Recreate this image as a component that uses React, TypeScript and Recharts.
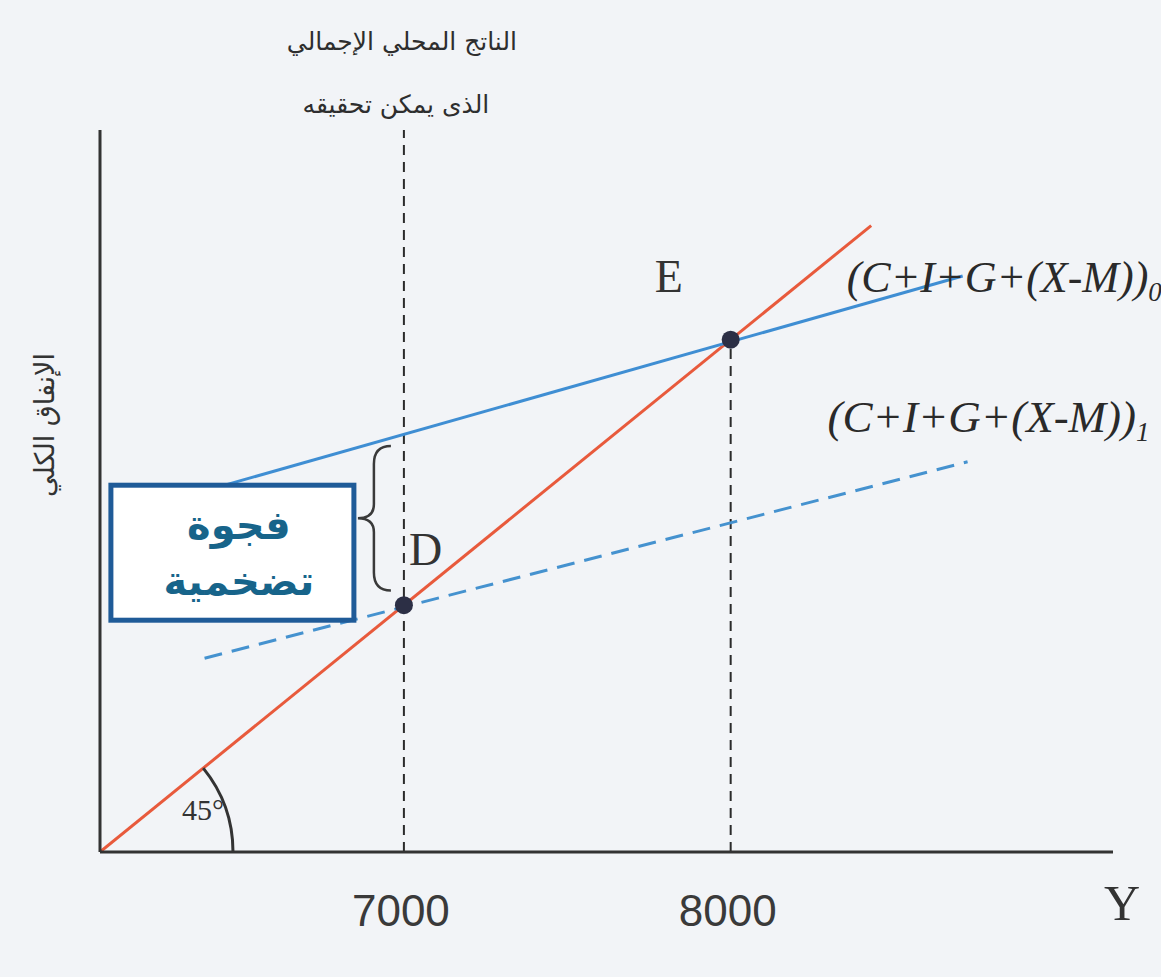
import React from 'react';
import {
  ComposedChart,
  Line,
  XAxis,
  YAxis,
  ReferenceLine,
  ReferenceDot
} from 'recharts';

// income (Y) on the horizontal axis, aggregate expenditure on the vertical one
const incomeTicks = [7000, 8000];
const incomeDomain = [6070, 9170];
const spendingDomain = [6070, 8790];

// 45 degree line (spending = income)
const line45 = [
  { x: 6070, y: 6070 },
  { x: 8430, y: 8430 }
];

// (C+I+G+(X-M))0 - original aggregate expenditure
const aggregate0 = [
  { x: 6460, y: 7455 },
  { x: 8710, y: 8240 }
];

// (C+I+G+(X-M))1 - lowered aggregate expenditure (dashed)
const aggregate1 = [
  { x: 6390, y: 6800 },
  { x: 8725, y: 7540 }
];

const pointE = { x: 8000, y: 8000 };
const pointD = { x: 7000, y: 7000 };

// inflationary gap at potential output
const gap = { x: 7000, top: 7600, bottom: 7055 };

const W = 1161;
const H = 977;
const plotW = 1013;
const plotH = 722;

const serif = '"Liberation Serif", "Times New Roman", serif';
const arabic = '"DejaVu Sans", sans-serif';

const GapBrace = (props: any) => {
  const { x1, y1, y2 } = props;
  const top = Math.min(y1, y2);
  const bottom = Math.max(y1, y2);
  const tip = x1 - 13;
  const spine = x1 - 30;
  const point = x1 - 46;
  const mid = (top + bottom) / 2;
  const d = `M ${tip} ${top} Q ${spine} ${top} ${spine} ${top + 18} L ${spine} ${mid - 14} Q ${spine} ${mid} ${point} ${mid} Q ${spine} ${mid} ${spine} ${mid + 14} L ${spine} ${bottom - 18} Q ${spine} ${bottom} ${tip} ${bottom}`;
  const boxLeft = point - 247;
  const boxRight = point - 4;
  const boxTop = mid - 33;
  const boxBottom = mid + 102;
  const cx = boxLeft + 128;
  return (
    <g>
      <path d={d} fill="none" stroke="#3a3a3a" strokeWidth={2.5} />
      <rect
        x={boxLeft}
        y={boxTop}
        width={boxRight - boxLeft}
        height={boxBottom - boxTop}
        fill="#ffffff"
        stroke="#1f5b98"
        strokeWidth={5}
      />
      <text x={cx} y={boxTop + 54} textAnchor="middle" fontFamily={arabic} fontWeight="bold" fontSize={40} fill="#17648a">
        فجوة
      </text>
      <text x={cx} y={boxTop + 110} textAnchor="middle" fontFamily={arabic} fontWeight="bold" fontSize={40} fill="#17648a">
        تضخمية
      </text>
    </g>
  );
};

const AngleMark = (props: any) => {
  const { cx, cy } = props;
  const r = 133;
  const sx = plotW / (incomeDomain[1] - incomeDomain[0]);
  const sy = plotH / (spendingDomain[1] - spendingDomain[0]);
  const theta = Math.atan(sy / sx);
  const ex = cx + r * Math.cos(theta);
  const ey = cy - r * Math.sin(theta);
  return (
    <g>
      <path d={`M ${cx + r} ${cy} A ${r} ${r} 0 0 0 ${ex} ${ey}`} fill="none" stroke="#333" strokeWidth={3} />
      <text x={cx + 103} y={cy - 32} textAnchor="middle" fontFamily={serif} fontSize={30} fill="#333">
        45°
      </text>
    </g>
  );
};

const Nothing = () => <g />;

const formulaLabel = (sub: string, dx: number, dy: number, size: number) => (props: any) => {
  const { viewBox } = props;
  const cx = viewBox.x + viewBox.width / 2;
  const cy = viewBox.y + viewBox.height / 2;
  return (
    <text x={cx + dx} y={cy + dy} fontFamily={serif} fontStyle="italic" fontSize={size} fill="#2a2a2a">
      (C+I+G+(X-M))
      <tspan fontSize={27} dy={9}>{sub}</tspan>
    </text>
  );
};

const pointLabel = (name: string, dx: number, dy: number) => (props: any) => {
  const { viewBox } = props;
  const cx = viewBox.x + viewBox.width / 2;
  const cy = viewBox.y + viewBox.height / 2;
  return (
    <text x={cx + dx} y={cy + dy} fontFamily={serif} fontSize={46} fill="#333">
      {name}
    </text>
  );
};

const PotentialTitle = (props: any) => {
  const { viewBox } = props;
  const x = viewBox.x;
  return (
    <g fontFamily={arabic} fontSize={25} fill="#2e2e2e" textAnchor="middle">
      <text x={x - 2} y={viewBox.y - 80}>الناتج المحلي الإجمالي</text>
      <text x={x - 8} y={viewBox.y - 17}>الذى يمكن تحقيقه</text>
    </g>
  );
};

const SpendingTitle = (props: any) => {
  const { viewBox } = props;
  const x = viewBox.x + 44;
  const y = viewBox.y + 295;
  return (
    <text x={x} y={y} transform={`rotate(-90 ${x} ${y})`} textAnchor="middle" dominantBaseline="central" fontFamily={arabic} fontSize={27} fill="#333">
      الإنفاق الكلي
    </text>
  );
};

const IncomeTitle = (props: any) => {
  const { viewBox } = props;
  return (
    <text x={viewBox.x + viewBox.width + 9} y={viewBox.y + 68} textAnchor="middle" fontFamily={serif} fontSize={50} fill="#333">
      Y
    </text>
  );
};

const App = () => {
  return (
    <div style={{ width: W, height: H, background: '#f2f4f7' }}>
      <style>{'body { margin: 0; }'}</style>
      <ComposedChart width={W} height={H} margin={{ top: 130, right: 48, bottom: 0, left: 0 }}>
        <XAxis
          dataKey="x"
          type="number"
          domain={incomeDomain}
          ticks={incomeTicks}
          allowDataOverflow
          height={125}
          tickLine={false}
          tickMargin={37}
          tick={{ fontSize: 44, fill: '#3a3a3a', fontFamily: '"Liberation Sans", sans-serif', dx: -3 }}
          axisLine={{ stroke: '#333', strokeWidth: 3 }}
          label={IncomeTitle}
        />
        <YAxis
          dataKey="y"
          type="number"
          domain={spendingDomain}
          allowDataOverflow
          width={100}
          tick={false}
          tickLine={false}
          axisLine={{ stroke: '#333', strokeWidth: 3 }}
          label={SpendingTitle}
        />

        {/* potential output and equilibrium output guides */}
        <ReferenceLine x={7000} stroke="#2b2b2b" strokeWidth={2} strokeDasharray="10 7" label={PotentialTitle} />
        <ReferenceLine
          segment={[{ x: pointE.x, y: spendingDomain[0] }, { x: pointE.x, y: pointE.y }]}
          stroke="#2b2b2b"
          strokeWidth={2}
          strokeDasharray="10 7"
        />

        <Line data={line45} dataKey="y" type="linear" stroke="#e85a3c" strokeWidth={3} dot={false} isAnimationActive={false} />
        <Line data={aggregate0} dataKey="y" type="linear" stroke="#3f8ed3" strokeWidth={3} dot={false} isAnimationActive={false} />
        <Line
          data={aggregate1}
          dataKey="y"
          type="linear"
          stroke="#4592cf"
          strokeWidth={3}
          strokeDasharray="18 10"
          dot={false}
          isAnimationActive={false}
        />

        {/* inflationary gap brace and callout */}
        <ReferenceLine segment={[{ x: gap.x, y: gap.top }, { x: gap.x, y: gap.bottom }]} shape={GapBrace} />

        <ReferenceDot x={spendingDomain[0]} y={spendingDomain[0]} shape={AngleMark} />

        <ReferenceDot x={aggregate0[1].x} y={aggregate0[1].y} r={0} shape={Nothing} label={formulaLabel('0', -116, 16, 44)} />
        <ReferenceDot x={aggregate1[1].x} y={aggregate1[1].y} r={0} shape={Nothing} label={formulaLabel('1', -140, -30, 45)} />

        <ReferenceDot x={pointE.x} y={pointE.y} r={9} fill="#2c2f45" stroke="none" label={pointLabel('E', -76, -48)} />
        <ReferenceDot x={pointD.x} y={pointD.y} r={9} fill="#2c2f45" stroke="none" label={pointLabel('D', 5, -40)} />
      </ComposedChart>
    </div>
  );
};

export default App;
